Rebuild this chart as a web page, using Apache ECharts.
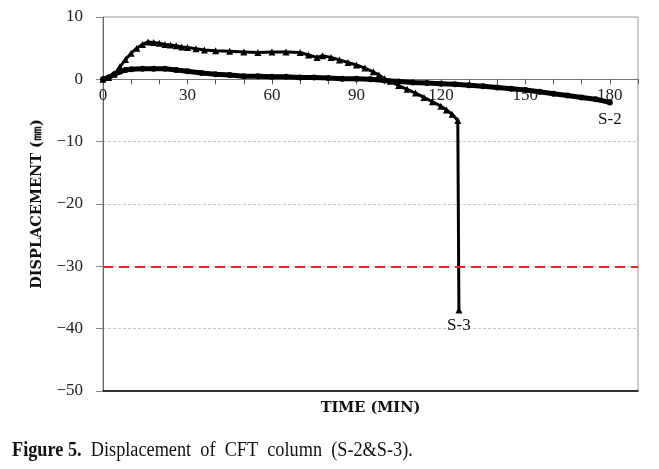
<!DOCTYPE html>
<html><head><meta charset="utf-8">
<script src="https://cdn.jsdelivr.net/npm/echarts@6/dist/echarts.min.js"></script>
<style>html,body{margin:0;padding:0;background:#fff}#c{width:659px;height:469px}</style>
</head><body><div id="c"></div>
<script>
const s3Time = [0,2,4,6,8,10,12,14,16,18,20,22,24,26,28,30,33,36,40,45,50,55,60,65,70,73,76,78,81,84,87,90,93,96,98,100,102,105,108,111,114,117,120,122,124,126,126.4];
const s3Disp = [0,0.3,0.8,2.0,3.2,4.2,5.0,5.6,6.0,5.9,5.8,5.6,5.5,5.4,5.2,5.1,4.9,4.7,4.6,4.5,4.4,4.3,4.4,4.4,4.3,3.9,3.5,3.8,3.5,3.1,2.7,2.3,1.8,1.2,0.7,0.1,-0.3,-1.0,-1.6,-2.2,-2.9,-3.6,-4.3,-4.9,-5.6,-6.6,-37];
const s2Time = [0,2,4,6,8,10,14,18,22,26,30,35,40,45,50,55,60,65,70,75,80,85,90,95,100,105,110,115,120,125,130,135,140,145,150,155,160,165,170,175,180];
const s2Disp = [0,0.3,0.8,1.2,1.5,1.6,1.7,1.7,1.7,1.5,1.3,1.0,0.8,0.7,0.5,0.5,0.4,0.4,0.3,0.3,0.2,0.1,0.1,0.0,-0.2,-0.35,-0.5,-0.6,-0.7,-0.8,-0.95,-1.1,-1.3,-1.5,-1.7,-2.0,-2.3,-2.6,-2.9,-3.2,-3.7];
const limitLine = -30;
const yTicks = {min:-50, max:10, step:10};
const xTicks = {min:0, max:190, step:10, labelEvery:30, lastLabel:180};

const serif = '"Liberation Serif","DejaVu Serif",serif';
const wideSerif = '"DejaVu Serif","Liberation Serif",serif';
const fmtMinus = v => String(v).replace('-', '\u2212');

const gridTop = 17, gridBottom = 78, plotH = 469 - gridTop - gridBottom;
const zeroOffset = -plotH * (0 - yTicks.min) / (yTicks.max - yTicks.min);

function pairs(t, d, lastLabel, dist) {
  return t.map((x, i) => {
    const item = {value:[x, d[i]]};
    if (i === t.length - 1) {
      item.label = {show:true, position:'bottom', distance:dist, formatter:lastLabel,
        fontFamily:serif, fontSize:17, color:'#111'};
    }
    return item;
  });
}

const chart = echarts.init(document.getElementById('c'));
chart.setOption({
  animation:false,
  backgroundColor:'#fff',
  grid:{left:103, right:21, top:gridTop, bottom:gridBottom, show:true, borderColor:'#9a9a9a', borderWidth:1},
  xAxis:[{
    type:'value', min:xTicks.min, max:xTicks.max, interval:xTicks.step, position:'bottom',
    offset:zeroOffset,
    axisLine:{onZero:false, lineStyle:{color:'#777', width:1}},
    axisTick:{show:true, length:5, inside:false, lineStyle:{color:'#555'}},
    axisLabel:{margin:8, fontFamily:serif, fontSize:17, color:'#222',
      formatter:v => (v % xTicks.labelEvery === 0 && v <= xTicks.lastLabel) ? String(v) : ''},
    splitLine:{show:false}
  },{
    type:'value', min:xTicks.min, max:xTicks.max, position:'bottom',
    axisLine:{onZero:false, lineStyle:{color:'#000', width:1.5}},
    axisTick:{show:false}, axisLabel:{show:false}, splitLine:{show:false},
    name:'TIME (MIN)', nameLocation:'middle', nameGap:10,
    nameTextStyle:{fontFamily:wideSerif, fontSize:14.5, fontWeight:'bold', color:'#111'}
  }],
  yAxis:{
    type:'value', min:yTicks.min, max:yTicks.max, interval:yTicks.step,
    axisLine:{show:true, lineStyle:{color:'#666'}},
    axisTick:{show:true, length:7, lineStyle:{color:'#888'}},
    axisLabel:{margin:20, fontFamily:serif, fontSize:17, color:'#222', formatter:fmtMinus},
    splitLine:{show:true, lineStyle:{color:'#c4c4c4', type:[3,2], width:1}},
    name:'DISPLACEMENT (\u339C)', nameLocation:'middle', nameGap:58, nameRotate:90,
    nameMoveOverlap:false,
    nameTextStyle:{fontFamily:wideSerif, fontSize:14.5, fontWeight:'bold', color:'#111'}
  },
  series:[{
    name:'S-2', type:'line', xAxisIndex:0,
    data:pairs(s2Time, s2Disp, 'S-2', 6),
    showSymbol:true, showAllSymbol:true, symbol:'circle', symbolSize:6,
    itemStyle:{color:'#000'}, lineStyle:{color:'#000', width:5},
    z:3
  },{
    name:'S-3', type:'line', xAxisIndex:0,
    data:pairs(s3Time, s3Disp, 'S-3', 4),
    showSymbol:true, showAllSymbol:true, symbol:'triangle', symbolSize:7,
    itemStyle:{color:'#000'}, lineStyle:{color:'#000', width:3},
    markLine:{silent:true, symbol:'none', label:{show:false},
      lineStyle:{color:'#e0262a', type:[10,6], width:2},
      data:[{yAxis:limitLine}]},
    z:4
  }],
  graphic:[{
    type:'text', left:12, top:441, scaleX:0.913,
    style:{
      text:'{b|Figure 5.}  Displacement  of  CFT  column  (S-2&S-3).',
      font:'20px ' + serif, fill:'#111',
      rich:{b:{fontWeight:'bold', fontSize:20, fontFamily:serif, fill:'#111'}}
    }
  }]
});
</script></body></html>
